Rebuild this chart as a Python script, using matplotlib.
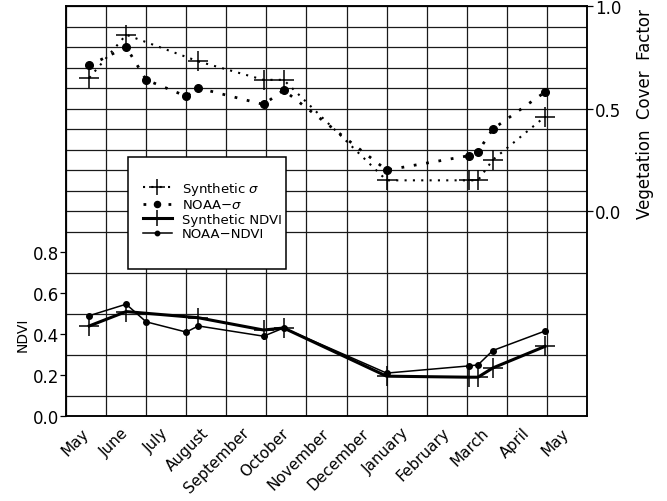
import matplotlib.pyplot as plt
from matplotlib.ticker import MultipleLocator, FixedLocator
from matplotlib.patches import Rectangle
import numpy as np

# month names along the bottom (one full year, May to May)
months = ["May", "June", "July", "August", "September", "October", "November",
          "December", "January", "February", "March", "April", "May"]

# acquisition dates, in months from mid-May
syn_x = [0.08, 1.0, 2.8, 4.43, 4.93, 7.5, 9.55, 9.78, 10.15, 11.45]
noaa_x = [0.08, 1.0, 1.5, 2.5, 2.8, 4.43, 4.93, 7.5, 9.55, 9.78, 10.15, 11.45]

# vegetation cover factor (right axis)
syn_sigma = [0.65, 0.86, 0.73, 0.64, 0.64, 0.15, 0.15, 0.15, 0.25, 0.46]
noaa_sigma = [0.71, 0.80, 0.64, 0.56, 0.60, 0.52, 0.59, 0.20, 0.27, 0.29, 0.40, 0.58]

# NDVI (left axis)
syn_ndvi = [0.44, 0.51, 0.48, 0.42, 0.43, 0.195, 0.19, 0.19, 0.235, 0.34]
noaa_ndvi = [0.49, 0.546, 0.46, 0.41, 0.44, 0.39, 0.43, 0.21, 0.245, 0.25, 0.32, 0.415]

plt.rcParams['font.family'] = 'DejaVu Sans'

fig = plt.figure(figsize=(6.67, 5.02), dpi=100)
ax = fig.add_axes([0.099, 0.169, 0.781, 0.817])
ax2 = ax.twinx()

# NDVI curves
l3, = ax.plot(syn_x, syn_ndvi, '-', color='k', lw=2.2, marker='+',
              ms=15, mew=1.1, label="Synthetic NDVI", zorder=4)
l4, = ax.plot(noaa_x, noaa_ndvi, '-', color='k', lw=1.1, marker='o',
              ms=4, label="NOAA\u2212NDVI", zorder=4)

# cover factor curves
l1, = ax2.plot(syn_x, syn_sigma, color='k', ls=(0, (1, 3)), lw=1.5, marker='+',
               ms=15, mew=1.1, label="Synthetic $\\sigma$", zorder=4)
l2, = ax2.plot(noaa_x, noaa_sigma, color='k', ls=(0, (1, 3.5)), lw=2.0, marker='o',
               ms=5.5, label="NOAA\u2212$\\sigma$", zorder=4)

ax.set_xlim(-0.5, 12.5)
ax.set_ylim(0, 2.0)
ax2.set_ylim(-1.0, 1.0)

ax.set_xticks(np.arange(len(months)))
ax.set_xticklabels(months, rotation=45, ha='right', va='center',
                   rotation_mode='anchor', fontsize=11)
ax.xaxis.set_minor_locator(FixedLocator(np.arange(-0.5, 12.6, 1.0)))
ax.tick_params(axis='x', which='both', length=0, pad=10)

ax.set_yticks([0.0, 0.2, 0.4, 0.6, 0.8])
ax.set_yticklabels(["0.0", "0.2", "0.4", "0.6", "0.8"], fontsize=12)
ax.yaxis.set_minor_locator(MultipleLocator(0.1))
ax.tick_params(axis='y', which='major', length=4, width=0.9, pad=1)
ax.tick_params(axis='y', which='minor', length=0)

ax2.set_yticks([0.0, 0.5, 1.0])
ax2.set_yticklabels(["0.0", "0.5", "1.0"], fontsize=12)
ax2.tick_params(axis='y', length=4, width=0.9, pad=2)

ax.grid(which='minor', color='0.1', lw=0.9)
ax.set_axisbelow(True)
for sp in list(ax.spines.values()) + list(ax2.spines.values()):
    sp.set_linewidth(1.1)

ax.set_ylabel("NDVI", fontsize=10)
ax.yaxis.set_label_coords(-0.07, 0.2)
ax2.set_ylabel("Vegetation  Cover  Factor", fontsize=12)
ax2.yaxis.set_label_coords(1.095, 0.74)

# legend box, drawn separately so it can have the tall padding
box = Rectangle((0.119, 0.359), 0.303, 0.273, transform=ax2.transAxes,
                facecolor='white', edgecolor='k', lw=1.1, zorder=5)
ax2.add_patch(box)
leg = ax2.legend(handles=[l1, l2, l3, l4], loc='upper left',
                 bbox_to_anchor=(0.135, 0.593), fontsize=9.5, frameon=False,
                 handlelength=2.2, borderpad=0, labelspacing=0.12,
                 handletextpad=0.75, markerscale=0.8)
leg.set_zorder(6)

fig.savefig("out.png", dpi=100)
